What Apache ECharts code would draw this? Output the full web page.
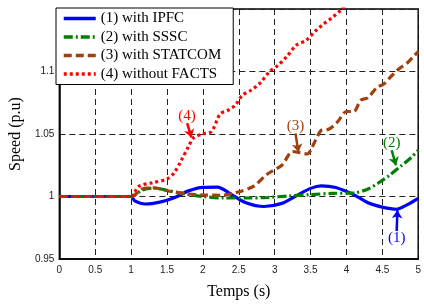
<!DOCTYPE html>
<html>
<head>
<meta charset="utf-8">
<script src="https://cdn.jsdelivr.net/npm/echarts@6/dist/echarts.min.js"></script>
<style>
  html, body { margin: 0; padding: 0; background: #fff; }
  #chart { width: 424px; height: 305px; }
</style>
</head>
<body>
<div id="chart"></div>
<script>
// series names
const names = ['(1) with IPFC', '(2) with SSSC', '(3) with STATCOM', '(4) without FACTS'];

// (1) IPFC
const tIpfc = [0, 1, 1.05, 1.2, 1.4, 1.6, 1.8, 2.0, 2.2, 2.4, 2.6, 2.85, 3.1, 3.3, 3.5, 3.65, 3.85, 4.1, 4.3, 4.5, 4.7, 4.85, 5];
const vIpfc = [1, 1, 0.9965, 0.994, 0.9955, 0.999, 1.0045, 1.0073, 1.0075, 1.0015, 0.995, 0.992, 0.9945, 1.0005, 1.0065, 1.0085, 1.0072, 1.0015, 0.995, 0.9915, 0.9898, 0.9935, 0.9985];

// (2) SSSC
const tSssc = [0, 1, 1.15, 1.3, 1.5, 1.75, 2.0, 2.3, 2.6, 2.9, 3.2, 3.5, 3.8, 4.1, 4.3, 4.45, 4.6, 4.75, 4.9, 5];
const vSssc = [1, 1, 1.005, 1.0068, 1.005, 1.002, 1.0, 0.9988, 0.9988, 0.9992, 1.0005, 1.0015, 1.0025, 1.0028, 1.006, 1.011, 1.017, 1.024, 1.031, 1.037];

// (3) STATCOM
const tStat = [0, 1, 1.15, 1.3, 1.55, 1.8, 2.0, 2.25, 2.45, 2.7, 2.9, 3.1, 3.25, 3.35, 3.45, 3.57, 3.65, 3.76, 3.88, 4.0, 4.1, 4.2, 4.3, 4.42, 4.52, 4.62, 4.73, 4.85, 4.95, 5];
const vStat = [1, 1, 1.006, 1.007, 1.004, 1.002, 1.0012, 1.001, 1.003, 1.008, 1.018, 1.025, 1.036, 1.035, 1.034, 1.045, 1.053, 1.054, 1.060, 1.068, 1.068, 1.077, 1.079, 1.087, 1.090, 1.096, 1.102, 1.107, 1.113, 1.116];

// (4) without FACTS
const tNone = [0, 1, 1.1, 1.3, 1.5, 1.6, 1.7, 1.8, 1.87, 2.0, 2.12, 2.24, 2.35, 2.45, 2.55, 2.67, 2.8, 2.93, 3.05, 3.17, 3.3, 3.44, 3.56, 3.68, 3.8, 3.92, 4.0];
const vNone = [1, 1, 1.008, 1.011, 1.014, 1.019, 1.029, 1.040, 1.047, 1.050, 1.052, 1.066, 1.069, 1.073, 1.081, 1.085, 1.091, 1.100, 1.105, 1.112, 1.121, 1.125, 1.132, 1.138, 1.143, 1.149, 1.154];

// annotation arrows: [label, start, end] in data coords
const notes = [
    ['(1)', [4.70, 0.9724], [4.71, 0.989]],
    ['(2)', [4.63, 1.037], [4.69, 1.025]],
    ['(3)', [3.29, 1.0505], [3.33, 1.0357]],
    ['(4)', [1.78, 1.0587], [1.84, 1.0473]]
];

const colors = ['#0000ff', '#008000', '#a0410d', '#ff0000'];
const dashes = ['solid', [9, 3, 2, 3], [8, 4], [3, 3]];
const serif = 'Liberation Serif';

function zip(t, v) { return t.map((x, i) => [x, v[i]]); }
const allData = [zip(tIpfc, vIpfc), zip(tSssc, vSssc), zip(tStat, vStat), zip(tNone, vNone)];

let chart = echarts.init(document.getElementById('chart'));

let series = names.map((n, i) => ({
    name: n,
    type: 'line',
    data: allData[i],
    symbol: 'none',
    smooth: 0.3,
    lineStyle: { color: colors[i], width: 3.2, type: dashes[i] },
    itemStyle: { color: colors[i] },
    z: 3,
    markLine: {
        silent: true,
        symbol: ['none', 'arrow'],
        symbolSize: 8,
        lineStyle: { color: colors[i], width: 2.5, type: 'solid' },
        label: {
            show: true,
            position: 'start',
            formatter: notes[i][0],
            color: colors[i],
            fontFamily: serif,
            fontSize: 15,
            distance: 0
        },
        data: [[{ coord: notes[i][1] }, { coord: notes[i][2] }]]
    }
}));

let option = {
    animation: false,
    grid: {
        left: 58, right: 3, top: 9, bottom: 39,
        show: true, borderColor: '#000', borderWidth: 1.5
    },
    legend: {
        orient: 'vertical',
        left: 56, top: 8,
        data: names,
        backgroundColor: '#fff',
        borderColor: '#000',
        borderWidth: 1,
        borderRadius: 0,
        padding: [3, 12, 3, 6],
        itemWidth: 32,
        itemHeight: 14,
        itemGap: 3.5,
        itemStyle: { opacity: 0 },
        lineStyle: { width: 3.5 },
        textStyle: { fontFamily: serif, fontSize: 15, color: '#000' },
        z: 10
    },
    xAxis: {
        type: 'value',
        min: 0, max: 5, interval: 0.5,
        name: 'Temps (s)',
        nameLocation: 'middle',
        nameGap: 25,
        nameTextStyle: { fontFamily: serif, fontSize: 16, color: '#000' },
        axisLine: { lineStyle: { color: '#000', width: 1.5 } },
        axisTick: { show: false },
        axisLabel: { fontFamily: 'Liberation Sans', fontSize: 10, color: '#222', margin: 6 },
        splitLine: { show: true, lineStyle: { color: '#222', type: [6, 4], width: 1 } }
    },
    yAxis: {
        type: 'value',
        min: 0.95, max: 1.15, interval: 0.05,
        name: 'Speed (p.u)',
        nameLocation: 'middle',
        nameGap: 32,
        nameTextStyle: { fontFamily: serif, fontSize: 16, color: '#000' },
        axisLine: { lineStyle: { color: '#000', width: 1.5 } },
        axisTick: { show: false },
        axisLabel: {
            fontFamily: 'Liberation Sans', fontSize: 10, color: '#222', margin: 5,
            formatter: v => v > 1.14 ? '' : String(+v.toFixed(2))
        },
        splitLine: { show: true, lineStyle: { color: '#222', type: [6, 4], width: 1 } }
    },
    series: series
};

chart.setOption(option);
</script>
</body>
</html>
